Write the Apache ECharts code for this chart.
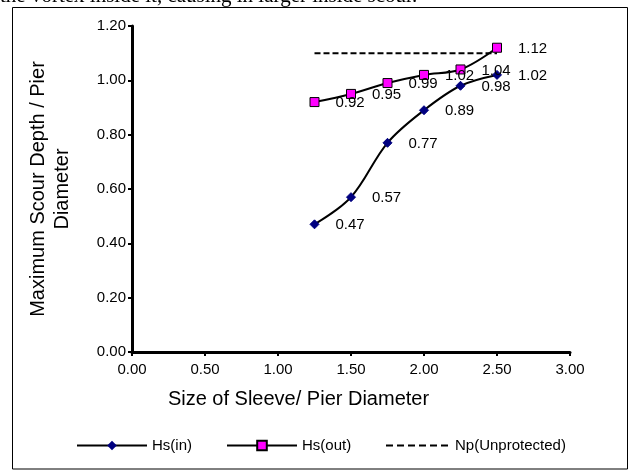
<!DOCTYPE html>
<html>
<head>
<meta charset="utf-8">
<script src="https://cdn.jsdelivr.net/npm/echarts@6/dist/echarts.min.js"></script>
<style>
html,body{margin:0;padding:0;background:#fff;}
#c{width:629px;height:476px;}
</style>
</head>
<body>
<div id="c"></div>
<script>
var xValues = [1.25, 1.5, 1.75, 2.0, 2.25, 2.5];
var hsIn = [0.47, 0.57, 0.77, 0.89, 0.98, 1.02];
var hsOut = [0.92, 0.95, 0.99, 1.02, 1.04, 1.12];
var npUnprotected = [1.10, 1.10, 1.10, 1.10, 1.10, 1.10];
var seriesNames = ['Hs(in)', 'Hs(out)', 'Np(Unprotected)'];
var xTitle = 'Size of Sleeve/ Pier Diameter';
var yTitle = 'Maximum Scour Depth / Pier\nDiameter';
var topText = 'the vortex inside it, causing in larger inside scour.';

function pairs(ys){ return xValues.map(function(x,i){ return [x, ys[i]]; }); }

var font = 'Liberation Sans, Arial, sans-serif';
var chart = echarts.init(document.getElementById('c'), null, {renderer:'canvas'});
var labelCfg = {
  show: true, position: 'right', distance: 16, offset: [0, 1],
  color: '#000', fontFamily: font, fontSize: 15,
  formatter: function(p){ return p.value[1].toFixed(2); }
};
var legendText = { fontFamily: font, fontSize: 15, color: '#000' };
chart.setOption({
  backgroundColor: '#fff',
  animation: false,
  graphic: [
    { type: 'rect', shape: { x: 12.5, y: 7.5, width: 615, height: 461.5 },
      style: { fill: 'none', stroke: '#000', lineWidth: 1 }, z: -1 },
    { type: 'text', left: 0, top: -14,
      style: { text: topText, fontFamily: 'Liberation Serif, Times New Roman, serif', fontSize: 21, fill: '#000' } }
  ],
  grid: { left: 132, right: 59, top: 26, bottom: 124 },
  xAxis: {
    type: 'value', min: 0, max: 3, interval: 0.5,
    name: xTitle, nameLocation: 'middle', nameGap: 37,
    nameTextStyle: { fontFamily: font, fontSize: 20, color: '#000', padding: [0, 105, 0, 0] },
    axisLine: { lineStyle: { color: '#000', width: 3 } },
    axisTick: { show: true, length: 4, lineStyle: { color: '#000', width: 2 } },
    axisLabel: { color: '#000', fontFamily: font, fontSize: 15, margin: 10,
      formatter: function(v){ return v.toFixed(2); } },
    splitLine: { show: false }
  },
  yAxis: {
    type: 'value', min: 0, max: 1.2, interval: 0.2,
    name: yTitle, nameLocation: 'middle', nameGap: 58, nameRotate: 90,
    nameTextStyle: { fontFamily: font, fontSize: 20, color: '#000', lineHeight: 24 },
    axisLine: { lineStyle: { color: '#000', width: 3 } },
    axisTick: { show: true, length: 4, lineStyle: { color: '#000', width: 2 } },
    axisLabel: { color: '#000', fontFamily: font, fontSize: 15, margin: 6,
      formatter: function(v){ return v.toFixed(2); } },
    splitLine: { show: false }
  },
  legend: [
    { data: [seriesNames[0]], left: 76, top: 438, padding: 0, itemWidth: 70, itemHeight: 12,
      textStyle: legendText },
    { data: [seriesNames[1]], left: 226, top: 438, padding: 0, itemWidth: 70, itemHeight: 12,
      textStyle: legendText },
    { data: [seriesNames[2]], left: 385, top: 438, padding: 0, itemWidth: 64, itemHeight: 12,
      itemStyle: { color: 'transparent', borderColor: 'transparent', borderWidth: 0 },
      lineStyle: { color: '#000', width: 2, type: [7, 4] },
      textStyle: legendText }
  ],
  series: [
    { name: seriesNames[0], type: 'line', data: pairs(hsIn), smooth: 0.35,
      symbol: 'diamond', symbolSize: 9,
      itemStyle: { color: '#000080', borderColor: '#000080' },
      lineStyle: { color: '#000', width: 2 },
      label: labelCfg, z: 3 },
    { name: seriesNames[1], type: 'line', data: pairs(hsOut), smooth: 0.35,
      symbol: 'rect', symbolSize: 9,
      itemStyle: { color: '#ff00ff', borderColor: '#000', borderWidth: 1 },
      lineStyle: { color: '#000', width: 2 },
      label: labelCfg, z: 4 },
    { name: seriesNames[2], type: 'line', data: pairs(npUnprotected),
      symbol: 'none', itemStyle: { color: '#000' },
      lineStyle: { color: '#000', width: 2, type: [6, 3] }, z: 2 }
  ]
});
</script>
</body>
</html>
